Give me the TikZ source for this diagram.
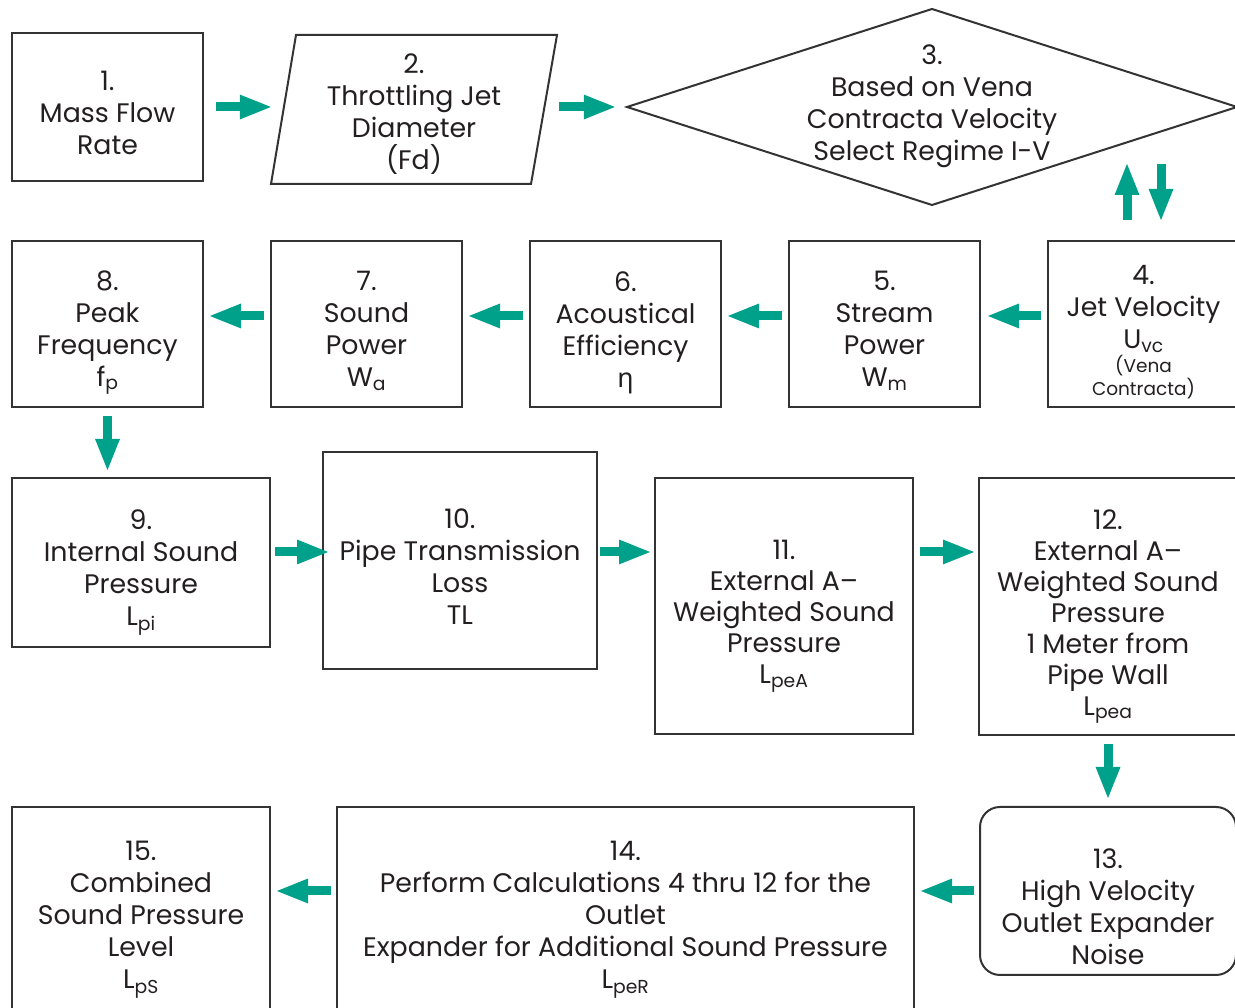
\documentclass[tikz,border=0pt]{standalone}
\usepackage{fontspec}
\setmainfont{Poppins}
\newfontfamily\grkfont{Noto Sans}
\usetikzlibrary{arrows.meta,calc}
\definecolor{tealA}{RGB}{0,161,139}
\definecolor{ink}{RGB}{35,31,32}
\definecolor{edgec}{RGB}{51,51,51}
\newcommand\boxfont{\fontsize{26.8}{32}\selectfont}
\newcommand\tightfont{\fontsize{26.8}{31}\selectfont}
\newcommand\smallfnt{\fontsize{18.5}{23}\selectfont}
\begin{document}
\begin{tikzpicture}[x=1pt,y=1pt,
  box/.style={draw=edgec, line width=2pt, inner sep=0pt},
  txt/.style={inner sep=0pt, align=center, text=ink, font=\boxfont},
  flow/.style={draw=tealA, line width=9pt, -{Triangle[length=33pt,width=22pt]}}]
\useasboundingbox (0,0) rectangle (1235,1008);
% row 1
\node[box, minimum width=191, minimum height=148,
  label={[txt,yshift=-5.5]center:{1.\\Mass Flow\\Rate}}] (b1) at (107.5,901) {};
\draw[edgec, line width=2pt, line join=miter] (271,824) -- (296,973) -- (557,973) -- (531,824) -- cycle;
\node[txt, minimum width=286, minimum height=149] (b2) at (414,894) {2.\\Throttling Jet\\Diameter\\(Fd)};
\draw[edgec, line width=2pt] (627,901) -- (932,999) -- (1237,901) -- (932,803) -- cycle;
\node[txt, minimum width=610] (d3) at (932,902) {3.\\Based on Vena\\Contracta Velocity\\Select Regime I-V};
% row 2
\node[box, minimum width=191, minimum height=166,
  label={[txt,yshift=-8]center:{4.\\Jet Velocity\\U\textsubscript{vc}\\[-8pt]{\smallfnt (Vena}\\[-9pt]{\smallfnt Contracta)}}}] (b4) at (1143.5,684) {};
\node[box, minimum width=191, minimum height=166,
  label={[txt,yshift=-7]center:{5.\\Stream\\Power\\W\textsubscript{m}}}] (b5) at (884.5,684) {};
\node[box, minimum width=191, minimum height=166,
  label={[txt,yshift=-9]center:{6.\\Acoustical\\Efficiency\\{\grkfont η}}}] (b6) at (625.5,684) {};
\node[box, minimum width=191, minimum height=166,
  label={[txt,yshift=-7]center:{7.\\Sound\\Power\\W\textsubscript{a}}}] (b7) at (366.5,684) {};
\node[box, minimum width=191, minimum height=166,
  label={[txt,yshift=-8.5]center:{8.\\Peak\\Frequency\\f\textsubscript{p}}}] (b8) at (107.5,684) {};
% row 3
\node[box, minimum width=258, minimum height=169,
  label={[txt,yshift=-10]center:{9.\\Internal Sound\\Pressure\\L\textsubscript{pi}}}] (b9) at (141,445.5) {};
\node[box, minimum width=274, minimum height=217,
  label={[txt,yshift=-6]center:{10.\\Pipe Transmission\\Loss\\TL}}] (b10) at (460,447.5) {};
\node[box, minimum width=258, minimum height=256,
  label={[txt,font=\tightfont,yshift=-10]center:{11.\\External A–\\Weighted Sound\\Pressure\\L\textsubscript{peA}}}] (b11) at (784,402) {};
\node[box, minimum width=258, minimum height=257,
  label={[txt,font=\tightfont,yshift=-10]center:{12.\\External A–\\Weighted Sound\\Pressure\\1 Meter from\\Pipe Wall\\L\textsubscript{pea}}}] (b12) at (1108,401.5) {};
% row 4
\node[box, rounded corners=20pt, minimum width=256, minimum height=168,
  label={[txt,yshift=-16]center:{13.\\High Velocity\\Outlet Expander\\Noise}}] (b13) at (1108,117) {};
\node[box, minimum width=577, minimum height=210,
  label={[txt,yshift=-8]center:{14.\\Perform Calculations 4 thru 12 for the\\Outlet\\Expander for Additional Sound Pressure\\L\textsubscript{peR}}}] (b14) at (625.5,96) {};
\node[box, minimum width=258, minimum height=210,
  label={[txt,yshift=-8]center:{15.\\Combined\\Sound Pressure\\Level\\L\textsubscript{pS}}}] (b15) at (141,96) {};
% connectors
\draw[flow] ($(b1.east)+(12,0)$) -- ($(b2.west)+(2,7)$);
\draw[flow] ($(b2.east)+(2,7)$) -- ($(d3.west)+(-10,-1)$);
\draw[flow] ($(b4.north)+(-16.5,20)$) -- ($(b4.north)+(-16.5,78)$);
\draw[flow] ($(b4.north)+(17.5,76)$) -- ($(b4.north)+(17.5,18)$);
\draw[flow] ($(b4.west)+(-6,8)$) -- ($(b5.east)+(5,8)$);
\draw[flow] ($(b5.west)+(-6,8)$) -- ($(b6.east)+(4,8)$);
\draw[flow] ($(b6.west)+(-6,8)$) -- ($(b7.east)+(4,8)$);
\draw[flow] ($(b7.west)+(-6,8)$) -- ($(b8.east)+(4,8)$);
\draw[flow] ($(b8.south)+(0,-8)$) -- ($(b8.south |- b9.north)+(0,5)$);
\draw[flow] ($(b9.east)+(4,10.5)$) -- ($(b10.west)+(8,8.5)$);
\draw[flow] ($(b10.east)+(2,8.5)$) -- ($(b11.west)+(-2,54)$);
\draw[flow] ($(b11.east)+(6,54)$) -- ($(b12.west)+(-2,54.5)$);
\draw[flow] ($(b12.south)+(0,-8)$) -- ($(b13.north)+(0,6)$);
\draw[flow] ($(b13.west)+(-5,0)$) -- ($(b14.east)+(4,21)$);
\draw[flow] ($(b14.west)+(-5,21)$) -- ($(b15.east)+(4,21)$);
\end{tikzpicture}
\end{document}
